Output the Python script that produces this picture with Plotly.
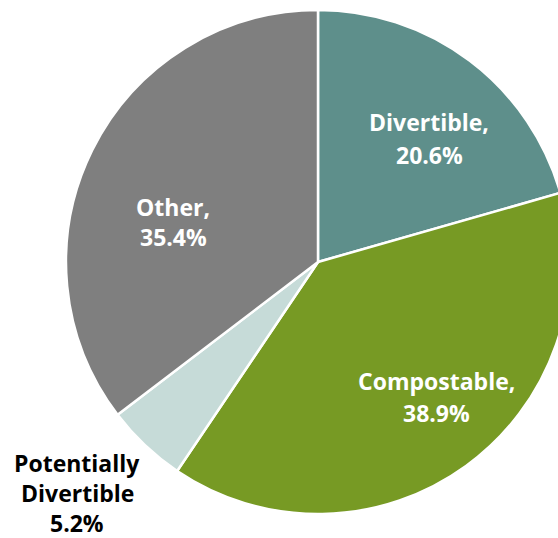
import plotly.graph_objects as go

labels = ["Divertible", "Compostable", "Potentially Divertible", "Other"]
values = [20.6, 38.9, 5.2, 35.4]
label_lines = [["Divertible,"], ["Compostable,"], ["Potentially", "Divertible"], ["Other,"]]

# styling / layout (not data)
colors = ["#5e8f8b", "#779a24", "#c6dbd8", "#7f7f7f"]
label_colors = ["white", "white", "black", "white"]
W, H = 570, 538
# label anchor (pixel x of centre, pixel y of first line, line spacing)
label_layout = [(429, 122, 33), (436, 381, 32), (77, 463, 30), (173, 207, 30)]

fig = go.Figure(go.Pie(
    labels=labels,
    values=values,
    sort=False,
    direction="clockwise",
    rotation=0,
    marker=dict(colors=colors, line=dict(color="white", width=2.5)),
    textinfo="none",
    hoverinfo="label+percent",
    showlegend=False,
    domain=dict(x=[66 / W, 1.0], y=[24 / H, 528 / H]),
))

annotations = []
for lines, val, col, (px, py, gap) in zip(label_lines, values, label_colors, label_layout):
    all_lines = lines + [f"{val:.1f}%"]
    for i, t in enumerate(all_lines):
        annotations.append(dict(
            x=px / W, y=1 - (py + i * gap) / H, xref="paper", yref="paper",
            text=t, showarrow=False,
            font=dict(family="Open Sans, DejaVu Sans, sans-serif", size=23, color=col, weight="bold"),
            xanchor="center", yanchor="middle",
        ))

fig.update_layout(
    width=W, height=H,
    margin=dict(l=0, r=0, t=0, b=0),
    paper_bgcolor="white",
    plot_bgcolor="white",
    annotations=annotations,
)

fig.write_html(
    "out.html",
    config={"displayModeBar": False},
    post_script="document.body.style.margin='0';document.body.style.overflow='hidden';document.documentElement.style.overflow='hidden';",
)
